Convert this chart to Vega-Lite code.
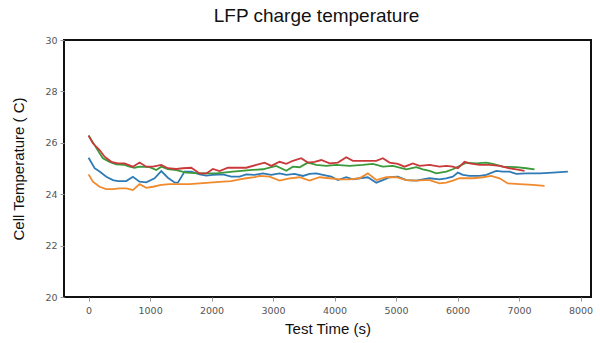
{
  "$schema": "https://vega.github.io/schema/vega-lite/v6.json",
  "width": 527,
  "height": 257,
  "autosize": {"type": "none"},
  "padding": {"left": 64, "top": 40, "right": 9, "bottom": 46},
  "background": "white",
  "title": {"text": "LFP charge temperature", "font": "Liberation Sans", "fontSize": 19, "fontWeight": "normal", "color": "#111", "offset": 9, "dx": -11, "anchor": "middle"},
  "config": {
    "view": {"stroke": "#111", "strokeWidth": 2},
    "axis": {"grid": false, "domain": false, "tickColor": "#999", "tickSize": 4, "labelColor": "#555", "labelFont": "DejaVu Sans", "labelFontSize": 9.5, "titleFont": "Liberation Sans", "titleFontSize": 15, "titleFontWeight": "normal", "titleColor": "#111"}
  },
  "data": {"values": [
    {"cell":"A","t":0,"temp":25.42},{"cell":"A","t":98,"temp":25.01},{"cell":"A","t":179,"temp":24.88},{"cell":"A","t":288,"temp":24.68},{"cell":"A","t":395,"temp":24.55},{"cell":"A","t":476,"temp":24.51},{"cell":"A","t":613,"temp":24.51},{"cell":"A","t":720,"temp":24.68},{"cell":"A","t":829,"temp":24.49},{"cell":"A","t":938,"temp":24.46},{"cell":"A","t":1073,"temp":24.62},{"cell":"A","t":1182,"temp":24.9},{"cell":"A","t":1289,"temp":24.64},{"cell":"A","t":1398,"temp":24.46},{"cell":"A","t":1452,"temp":24.45},{"cell":"A","t":1561,"temp":24.88},{"cell":"A","t":1670,"temp":24.88},{"cell":"A","t":1805,"temp":24.77},{"cell":"A","t":1914,"temp":24.72},{"cell":"A","t":2021,"temp":24.75},{"cell":"A","t":2184,"temp":24.77},{"cell":"A","t":2320,"temp":24.68},{"cell":"A","t":2455,"temp":24.68},{"cell":"A","t":2564,"temp":24.77},{"cell":"A","t":2699,"temp":24.75},{"cell":"A","t":2834,"temp":24.81},{"cell":"A","t":2971,"temp":24.75},{"cell":"A","t":3106,"temp":24.81},{"cell":"A","t":3215,"temp":24.75},{"cell":"A","t":3350,"temp":24.79},{"cell":"A","t":3485,"temp":24.71},{"cell":"A","t":3593,"temp":24.79},{"cell":"A","t":3702,"temp":24.81},{"cell":"A","t":3810,"temp":24.75},{"cell":"A","t":3947,"temp":24.68},{"cell":"A","t":4054,"temp":24.55},{"cell":"A","t":4190,"temp":24.66},{"cell":"A","t":4298,"temp":24.58},{"cell":"A","t":4406,"temp":24.62},{"cell":"A","t":4541,"temp":24.66},{"cell":"A","t":4678,"temp":24.45},{"cell":"A","t":4785,"temp":24.55},{"cell":"A","t":4894,"temp":24.66},{"cell":"A","t":5029,"temp":24.68},{"cell":"A","t":5166,"temp":24.55},{"cell":"A","t":5328,"temp":24.53},{"cell":"A","t":5436,"temp":24.58},{"cell":"A","t":5545,"temp":24.62},{"cell":"A","t":5707,"temp":24.58},{"cell":"A","t":5816,"temp":24.62},{"cell":"A","t":5923,"temp":24.68},{"cell":"A","t":6005,"temp":24.84},{"cell":"A","t":6086,"temp":24.75},{"cell":"A","t":6195,"temp":24.71},{"cell":"A","t":6358,"temp":24.71},{"cell":"A","t":6467,"temp":24.75},{"cell":"A","t":6629,"temp":24.91},{"cell":"A","t":6737,"temp":24.88},{"cell":"A","t":6845,"temp":24.88},{"cell":"A","t":6954,"temp":24.79},{"cell":"A","t":7117,"temp":24.81},{"cell":"A","t":7333,"temp":24.81},{"cell":"A","t":7550,"temp":24.84},{"cell":"A","t":7794,"temp":24.88},
    {"cell":"B","t":0,"temp":24.77},{"cell":"B","t":70,"temp":24.49},{"cell":"B","t":179,"temp":24.29},{"cell":"B","t":288,"temp":24.2},{"cell":"B","t":395,"temp":24.2},{"cell":"B","t":504,"temp":24.23},{"cell":"B","t":613,"temp":24.23},{"cell":"B","t":720,"temp":24.16},{"cell":"B","t":829,"temp":24.39},{"cell":"B","t":938,"temp":24.25},{"cell":"B","t":1046,"temp":24.29},{"cell":"B","t":1182,"temp":24.36},{"cell":"B","t":1317,"temp":24.39},{"cell":"B","t":1480,"temp":24.39},{"cell":"B","t":1642,"temp":24.39},{"cell":"B","t":1805,"temp":24.42},{"cell":"B","t":2021,"temp":24.46},{"cell":"B","t":2184,"temp":24.49},{"cell":"B","t":2320,"temp":24.51},{"cell":"B","t":2455,"temp":24.58},{"cell":"B","t":2564,"temp":24.62},{"cell":"B","t":2699,"temp":24.66},{"cell":"B","t":2780,"temp":24.71},{"cell":"B","t":2943,"temp":24.68},{"cell":"B","t":3106,"temp":24.53},{"cell":"B","t":3268,"temp":24.62},{"cell":"B","t":3431,"temp":24.66},{"cell":"B","t":3593,"temp":24.53},{"cell":"B","t":3756,"temp":24.66},{"cell":"B","t":3919,"temp":24.62},{"cell":"B","t":4081,"temp":24.58},{"cell":"B","t":4244,"temp":24.58},{"cell":"B","t":4406,"temp":24.62},{"cell":"B","t":4541,"temp":24.81},{"cell":"B","t":4678,"temp":24.55},{"cell":"B","t":4841,"temp":24.66},{"cell":"B","t":5003,"temp":24.66},{"cell":"B","t":5166,"temp":24.55},{"cell":"B","t":5328,"temp":24.53},{"cell":"B","t":5463,"temp":24.55},{"cell":"B","t":5545,"temp":24.55},{"cell":"B","t":5707,"temp":24.42},{"cell":"B","t":5816,"temp":24.45},{"cell":"B","t":5923,"temp":24.53},{"cell":"B","t":6032,"temp":24.62},{"cell":"B","t":6249,"temp":24.62},{"cell":"B","t":6411,"temp":24.66},{"cell":"B","t":6548,"temp":24.71},{"cell":"B","t":6683,"temp":24.62},{"cell":"B","t":6818,"temp":24.42},{"cell":"B","t":7008,"temp":24.39},{"cell":"B","t":7224,"temp":24.36},{"cell":"B","t":7415,"temp":24.32},
    {"cell":"C","t":0,"temp":26.28},{"cell":"C","t":98,"temp":25.91},{"cell":"C","t":179,"temp":25.59},{"cell":"C","t":233,"temp":25.4},{"cell":"C","t":341,"temp":25.26},{"cell":"C","t":450,"temp":25.16},{"cell":"C","t":585,"temp":25.14},{"cell":"C","t":667,"temp":25.07},{"cell":"C","t":748,"temp":25.03},{"cell":"C","t":829,"temp":25.07},{"cell":"C","t":992,"temp":25.05},{"cell":"C","t":1101,"temp":24.94},{"cell":"C","t":1182,"temp":25.07},{"cell":"C","t":1289,"temp":24.98},{"cell":"C","t":1426,"temp":24.94},{"cell":"C","t":1589,"temp":24.84},{"cell":"C","t":1805,"temp":24.81},{"cell":"C","t":2076,"temp":24.81},{"cell":"C","t":2346,"temp":24.88},{"cell":"C","t":2618,"temp":24.94},{"cell":"C","t":2834,"temp":24.97},{"cell":"C","t":3052,"temp":25.1},{"cell":"C","t":3215,"temp":24.91},{"cell":"C","t":3322,"temp":25.07},{"cell":"C","t":3431,"temp":25.05},{"cell":"C","t":3566,"temp":25.23},{"cell":"C","t":3702,"temp":25.14},{"cell":"C","t":3865,"temp":25.1},{"cell":"C","t":4028,"temp":25.14},{"cell":"C","t":4244,"temp":25.1},{"cell":"C","t":4460,"temp":25.14},{"cell":"C","t":4623,"temp":25.18},{"cell":"C","t":4785,"temp":25.07},{"cell":"C","t":4948,"temp":25.1},{"cell":"C","t":5166,"temp":24.97},{"cell":"C","t":5328,"temp":25.05},{"cell":"C","t":5436,"temp":24.97},{"cell":"C","t":5545,"temp":24.91},{"cell":"C","t":5654,"temp":24.81},{"cell":"C","t":5816,"temp":24.88},{"cell":"C","t":5923,"temp":24.97},{"cell":"C","t":6005,"temp":25.07},{"cell":"C","t":6141,"temp":25.23},{"cell":"C","t":6304,"temp":25.2},{"cell":"C","t":6467,"temp":25.23},{"cell":"C","t":6574,"temp":25.18},{"cell":"C","t":6737,"temp":25.07},{"cell":"C","t":6954,"temp":25.05},{"cell":"C","t":7117,"temp":25.01},{"cell":"C","t":7252,"temp":24.97},
    {"cell":"D","t":0,"temp":26.28},{"cell":"D","t":70,"temp":25.98},{"cell":"D","t":179,"temp":25.72},{"cell":"D","t":260,"temp":25.46},{"cell":"D","t":369,"temp":25.26},{"cell":"D","t":476,"temp":25.2},{"cell":"D","t":585,"temp":25.2},{"cell":"D","t":720,"temp":25.07},{"cell":"D","t":829,"temp":25.23},{"cell":"D","t":938,"temp":25.07},{"cell":"D","t":1046,"temp":25.07},{"cell":"D","t":1182,"temp":25.14},{"cell":"D","t":1289,"temp":25.01},{"cell":"D","t":1426,"temp":24.98},{"cell":"D","t":1533,"temp":25.01},{"cell":"D","t":1670,"temp":25.03},{"cell":"D","t":1805,"temp":24.81},{"cell":"D","t":1914,"temp":24.81},{"cell":"D","t":2021,"temp":24.98},{"cell":"D","t":2130,"temp":24.9},{"cell":"D","t":2265,"temp":25.03},{"cell":"D","t":2402,"temp":25.03},{"cell":"D","t":2564,"temp":25.03},{"cell":"D","t":2727,"temp":25.14},{"cell":"D","t":2862,"temp":25.23},{"cell":"D","t":2971,"temp":25.1},{"cell":"D","t":3106,"temp":25.26},{"cell":"D","t":3215,"temp":25.18},{"cell":"D","t":3322,"temp":25.3},{"cell":"D","t":3458,"temp":25.4},{"cell":"D","t":3566,"temp":25.23},{"cell":"D","t":3675,"temp":25.26},{"cell":"D","t":3784,"temp":25.33},{"cell":"D","t":3919,"temp":25.2},{"cell":"D","t":4054,"temp":25.23},{"cell":"D","t":4190,"temp":25.44},{"cell":"D","t":4298,"temp":25.3},{"cell":"D","t":4406,"temp":25.3},{"cell":"D","t":4541,"temp":25.3},{"cell":"D","t":4678,"temp":25.3},{"cell":"D","t":4785,"temp":25.4},{"cell":"D","t":4894,"temp":25.23},{"cell":"D","t":5029,"temp":25.18},{"cell":"D","t":5138,"temp":25.07},{"cell":"D","t":5273,"temp":25.2},{"cell":"D","t":5382,"temp":25.1},{"cell":"D","t":5545,"temp":25.14},{"cell":"D","t":5707,"temp":25.07},{"cell":"D","t":5816,"temp":25.1},{"cell":"D","t":5923,"temp":25.07},{"cell":"D","t":6005,"temp":25.01},{"cell":"D","t":6114,"temp":25.26},{"cell":"D","t":6195,"temp":25.2},{"cell":"D","t":6358,"temp":25.14},{"cell":"D","t":6520,"temp":25.14},{"cell":"D","t":6683,"temp":25.1},{"cell":"D","t":6845,"temp":25.01},{"cell":"D","t":6954,"temp":24.97},{"cell":"D","t":7089,"temp":24.91}
  ]},
  "mark": {"type": "line", "strokeWidth": 1.8, "clip": true},
  "encoding": {
    "x": {"field": "t", "type": "quantitative", "title": "Test Time (s)", "scale": {"domain": [-400, 8170], "nice": false, "zero": false}, "axis": {"values": [0,1000,2000,3000,4000,5000,6000,7000,8000], "format": "d", "labelPadding": 4, "titlePadding": 7}},
    "y": {"field": "temp", "type": "quantitative", "title": "Cell Temperature ( C)", "scale": {"domain": [20, 30], "nice": false, "zero": false}, "axis": {"values": [20,22,24,26,28,30], "labelPadding": 3, "titlePadding": 18}},
    "color": {"field": "cell", "type": "nominal", "legend": null, "scale": {"domain": ["A","B","C","D"], "range": ["#2f7ab5", "#f08a2c", "#3a9a3a", "#c9383a"]}}
  }
}
